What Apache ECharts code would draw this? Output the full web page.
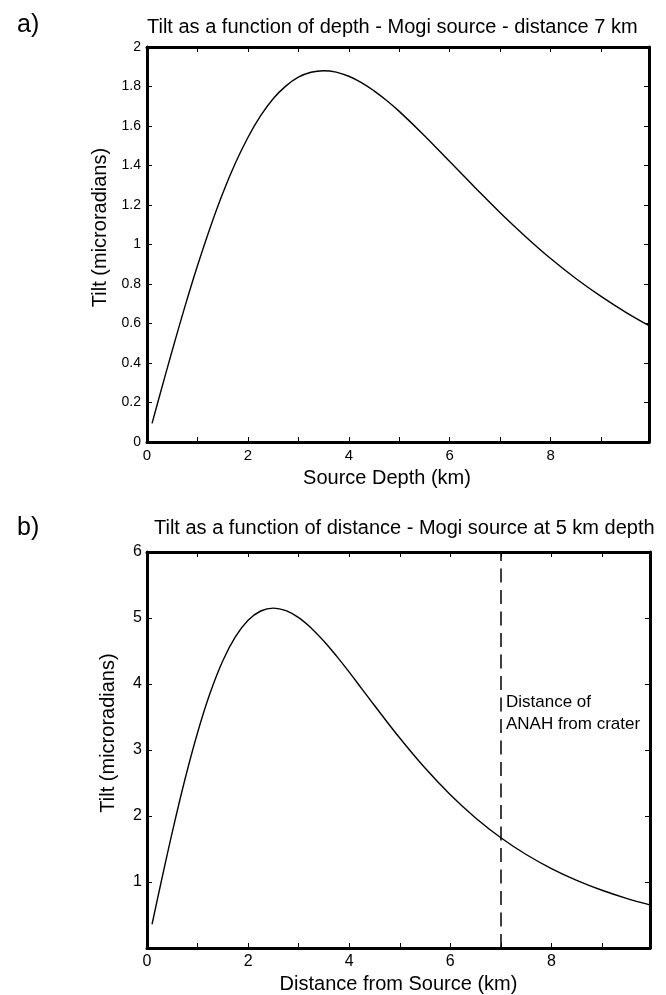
<!DOCTYPE html>
<html>
<head>
<meta charset="utf-8">
<title>Mogi tilt</title>
<script src="https://cdn.jsdelivr.net/npm/echarts@6/dist/echarts.min.js"></script>
<style>
  html, body { margin: 0; padding: 0; background: #fff; }
  #tilt { width: 666px; height: 995px; }
</style>
</head>
<body>
<div id="tilt"></div>
<script type="text/javascript">
    // a) tilt vs source depth, station 7 km away
    var depthKm   = [0.1, 0.25, 0.5, 0.75, 1.0, 1.25, 1.5, 1.75, 2.0, 2.25, 2.5, 2.75, 3.0, 3.25, 3.5, 3.75, 4.0, 4.25, 4.5, 4.75, 5.0, 5.5, 6.0, 6.5, 7.0, 7.5, 8.0, 8.5, 9.0, 9.5, 9.95];
    var tiltDepth = [0.094, 0.234, 0.463, 0.684, 0.892, 1.084, 1.258, 1.411, 1.542, 1.651, 1.738, 1.802, 1.847, 1.872, 1.880, 1.873, 1.852, 1.820, 1.778, 1.729, 1.674, 1.551, 1.420, 1.289, 1.161, 1.041, 0.929, 0.828, 0.737, 0.655, 0.589];

    // b) tilt vs distance, source at 5 km depth
    var distKm   = [0.1, 0.25, 0.5, 0.75, 1.0, 1.25, 1.5, 1.75, 2.0, 2.25, 2.5, 2.75, 3.0, 3.25, 3.5, 3.75, 4.0, 4.25, 4.5, 5.0, 5.5, 6.0, 6.5, 7.0, 7.5, 8.0, 8.5, 9.0, 9.5, 9.95];
    var tiltDist = [0.36, 0.894, 1.755, 2.553, 3.262, 3.866, 4.352, 4.717, 4.966, 5.106, 5.150, 5.111, 5.005, 4.846, 4.648, 4.422, 4.179, 3.927, 3.674, 3.181, 2.726, 2.322, 1.971, 1.671, 1.417, 1.204, 1.025, 0.875, 0.749, 0.653];

    var anahKm = 7;

    function pairs(xs, ys) {
        var out = [];
        for (var i = 0; i < xs.length; i++) out.push([xs[i], ys[i]]);
        return out;
    }

    var FONT = "'Liberation Sans', Arial, sans-serif";
    var INK = '#000';

    function frameAxis(extra) {
        var a = {
            type: 'value',
            axisLine: { show: true, onZero: false, lineStyle: { color: INK, width: 3 } },
            axisTick: { show: true, inside: true, length: 5, lineStyle: { color: INK, width: 1 } },
            splitLine: { show: false },
            axisLabel: { show: false }
        };
        for (var k in extra) a[k] = extra[k];
        return a;
    }

    var evenOnly = function (v) { return Math.abs(v % 2) < 1e-9 ? String(v) : ''; };

    var chart = echarts.init(document.getElementById('tilt'));

    var option = {
        animation: false,
        backgroundColor: '#fff',
        textStyle: { fontFamily: FONT, color: INK },
        title: [
            { text: 'a)', left: 12, top: 8, textStyle: { fontSize: 25, fontWeight: 'normal', color: INK, fontFamily: FONT } },
            { text: 'Tilt as a function of depth - Mogi source - distance 7 km', left: 142, top: 12,
              textStyle: { fontSize: 20, fontWeight: 'normal', color: INK, fontFamily: FONT } },
            { text: 'b)', left: 12, top: 511, textStyle: { fontSize: 25, fontWeight: 'normal', color: INK, fontFamily: FONT } },
            { text: 'Tilt as a function of distance - Mogi source at 5 km depth', left: 149, top: 513,
              textStyle: { fontSize: 20, fontWeight: 'normal', color: INK, fontFamily: FONT } }
        ],
        grid: [
            { left: 147, right: 17, top: 47, height: 395 },
            { left: 147, right: 16, top: 552, height: 397 }
        ],
        xAxis: [
            frameAxis({ gridIndex: 0, min: 0, max: 9.95, interval: 1, position: 'bottom',
                name: 'Source Depth (km)', nameLocation: 'middle', nameGap: 26,
                nameTextStyle: { fontSize: 20, color: INK, fontFamily: FONT, padding: [0, 22, 0, 0] },
                axisLabel: { show: true, formatter: evenOnly, fontSize: 15, color: INK, margin: 6, fontFamily: FONT } }),
            frameAxis({ gridIndex: 0, min: 0, max: 9.95, interval: 1, position: 'top' }),
            frameAxis({ gridIndex: 1, min: 0, max: 9.95, interval: 1, position: 'bottom',
                name: 'Distance from Source (km)', nameLocation: 'middle', nameGap: 26,
                nameTextStyle: { fontSize: 20, color: INK, fontFamily: FONT },
                axisLabel: { show: true, formatter: evenOnly, fontSize: 16, color: INK, margin: 6, fontFamily: FONT } }),
            frameAxis({ gridIndex: 1, min: 0, max: 9.95, interval: 1, position: 'top' })
        ],
        yAxis: [
            frameAxis({ gridIndex: 0, min: 0, max: 2, interval: 0.2, position: 'left',
                name: 'Tilt (microradians)', nameLocation: 'middle', nameGap: 33,
                nameTextStyle: { fontSize: 20, color: INK, fontFamily: FONT, padding: [0, 0, 0, 34] },
                axisLabel: { show: true, fontSize: 14, color: INK, margin: 6, fontFamily: FONT } }),
            frameAxis({ gridIndex: 0, min: 0, max: 2, interval: 0.2, position: 'right' }),
            frameAxis({ gridIndex: 1, min: 0, max: 6, interval: 1, position: 'left',
                name: 'Tilt (microradians)', nameLocation: 'middle', nameGap: 29,
                nameTextStyle: { fontSize: 20, color: INK, fontFamily: FONT, padding: [0, 0, 0, 34] },
                axisLabel: { show: true, fontSize: 16, color: INK, margin: 5, fontFamily: FONT,
                    formatter: function (v) { return v === 0 ? '' : String(v); } } }),
            frameAxis({ gridIndex: 1, min: 0, max: 6, interval: 1, position: 'right' })
        ],
        series: [
            {
                name: 'depth',
                type: 'line',
                xAxisIndex: 0,
                yAxisIndex: 0,
                smooth: 0.4,
                symbol: 'none',
                lineStyle: { color: INK, width: 1.4 },
                data: pairs(depthKm, tiltDepth)
            },
            {
                name: 'distance',
                type: 'line',
                xAxisIndex: 2,
                yAxisIndex: 2,
                smooth: 0.4,
                symbol: 'none',
                lineStyle: { color: INK, width: 1.4 },
                data: pairs(distKm, tiltDist),
                markLine: {
                    silent: true,
                    symbol: ['none', 'none'],
                    label: { show: false },
                    lineStyle: { color: INK, width: 1.5, type: [14, 7.5] },
                    data: [{ xAxis: anahKm }]
                }
            }
        ],
        graphic: [
            {
                type: 'text',
                left: 506,
                top: 691,
                style: {
                    text: 'Distance of\nANAH from crater',
                    fontSize: 17,
                    fontFamily: FONT,
                    lineHeight: 22,
                    fill: INK
                }
            }
        ]
    };

    chart.setOption(option);
</script>
</body>
</html>
